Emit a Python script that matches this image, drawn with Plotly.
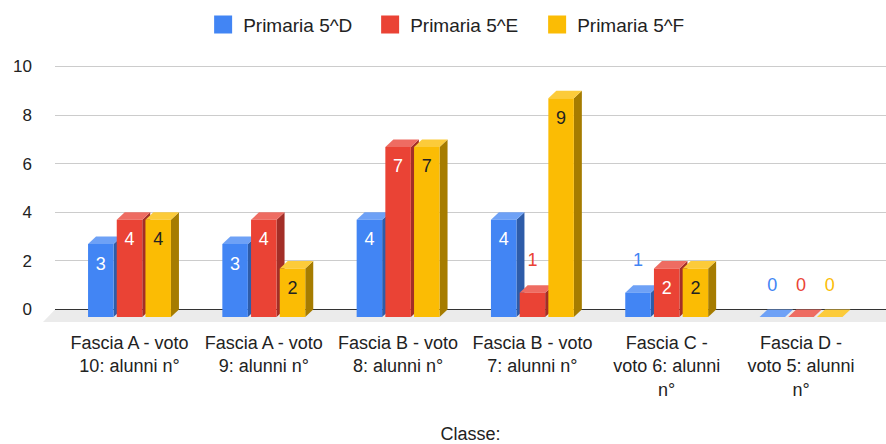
import plotly.graph_objects as go

# ---- data -------------------------------------------------------------
categories = [
    "Fascia A - voto<br>10: alunni n°",
    "Fascia A - voto<br>9: alunni n°",
    "Fascia B - voto<br>8: alunni n°",
    "Fascia B - voto<br>7: alunni n°",
    "Fascia C -<br>voto 6: alunni<br>n°",
    "Fascia D -<br>voto 5: alunni<br>n°",
]
series_names = ["Primaria 5^D", "Primaria 5^E", "Primaria 5^F"]
primaria_5d = [3, 3, 4, 4, 1, 0]
primaria_5e = [4, 4, 7, 1, 2, 0]
primaria_5f = [4, 2, 7, 9, 2, 0]
y_ticks = [0, 2, 4, 6, 8, 10]
axis_title = "Classe:"

series_values = [primaria_5d, primaria_5e, primaria_5f]

# ---- styling ----------------------------------------------------------
front_colors = ["#4285F4", "#EA4335", "#FBBC04"]
top_colors = ["#6EA1F6", "#EE6C62", "#FCCB3A"]
side_colors = ["#2E5CA8", "#A32E27", "#A67C00"]
inside_text_colors = ["white", "white", "#222222"]
FONT = "Liberation Sans, Arial, sans-serif"

# ---- page / plot geometry (pixels) ------------------------------------
W, H = 886, 444
PLOT_L, PLOT_R = 55, 886
PLOT_T, PLOT_B = 50, 330
X_FIRST = 129.5      # pixel centre of the first category
X_STEP = 134.3       # pixels per category
Y_ZERO = 309.5       # pixel row of value 0
Y_UNIT = 24.3        # pixels per value unit

BAR_W = 25.5         # front face width
BAR_STRIDE = 28.7    # distance between bars inside a group
DEPTH_X = 8.0        # 3D depth offset
DEPTH_Y = 7.5

x_range = [(PLOT_L - X_FIRST) / X_STEP, (PLOT_R - X_FIRST) / X_STEP]
y_range = [-(PLOT_B - Y_ZERO) / Y_UNIT, (Y_ZERO - PLOT_T) / Y_UNIT]


def px_x(p):
    return p / X_STEP


def px_y(p):
    return p / Y_UNIT


bw = px_x(BAR_W)
dx = px_x(DEPTH_X)
dy = px_y(DEPTH_Y)

fig = go.Figure()
shapes = []


# floor plane under the columns
def paper_x(p):
    return (p - PLOT_L) / (PLOT_R - PLOT_L)


def paper_y(p):
    return (PLOT_B - p) / (PLOT_B - PLOT_T)


floor_front = Y_ZERO + 12.5
shapes.append(dict(
    type="path", xref="paper", yref="paper", layer="below",
    path=(f"M{paper_x(PLOT_L)},{paper_y(Y_ZERO)} L{paper_x(PLOT_R + 20)},{paper_y(Y_ZERO)} "
          f"L{paper_x(PLOT_R + 8)},{paper_y(floor_front)} L{paper_x(PLOT_L - 12)},{paper_y(floor_front)} Z"),
    fillcolor="#EBEBEB", line=dict(width=0),
))

label_x, label_y, label_text, label_color = [], [], [], []

for k, (name, vals) in enumerate(zip(series_names, series_values)):
    offset = px_x((k - 1) * BAR_STRIDE - BAR_W / 2)
    xs = list(range(len(categories)))
    # front faces
    fig.add_trace(go.Bar(
        x=xs, y=vals, base=[-dy] * len(vals), offset=offset, width=bw,
        name=name, marker=dict(color=front_colors[k], line=dict(width=0)),
        hoverinfo="skip", showlegend=False,
    ))
    # legend swatch for the series
    fig.add_trace(go.Scatter(
        x=[None], y=[None], mode="markers", name=name,
        marker=dict(symbol="square", size=16, color=front_colors[k],
                    line=dict(width=2, color=front_colors[k])),
        hoverinfo="skip",
    ))
    for i, v in enumerate(vals):
        left = i + offset
        right = left + bw
        # side face
        shapes.append(dict(
            type="path", xref="x", yref="y", layer="between",
            path=f"M{right},{v - dy} L{right + dx},{v} L{right + dx},0 L{right},{-dy} Z",
            fillcolor=side_colors[k], line=dict(width=0),
        ))
        # top face
        shapes.append(dict(
            type="path", xref="x", yref="y", layer="between",
            path=f"M{left},{v - dy} L{left + dx},{v} L{right + dx},{v} L{right},{v - dy} Z",
            fillcolor=top_colors[k], line=dict(width=0),
        ))
        # value label
        cx = left + bw / 2
        if v * Y_UNIT >= 40:
            label_y.append(v - dy - px_y(21))
            label_color.append(inside_text_colors[k])
        else:
            label_y.append(v - dy + px_y(31))
            label_color.append(front_colors[k])
        label_x.append(cx)
        label_text.append(str(v))

fig.add_trace(go.Scatter(
    x=label_x, y=label_y, text=label_text, mode="text",
    textfont=dict(family=FONT, size=18, color=label_color),
    showlegend=False, hoverinfo="skip",
))

fig.update_layout(
    width=W, height=H,
    margin=dict(l=PLOT_L, r=W - PLOT_R, t=PLOT_T, b=H - PLOT_B),
    paper_bgcolor="white", plot_bgcolor="rgba(0,0,0,0)",
    font=dict(family=FONT, size=18, color="#222222"),
    barmode="overlay",
    shapes=shapes,
    showlegend=True,
    legend=dict(
        orientation="h", xref="container", yref="container",
        x=0.512, xanchor="center", y=0.987, yanchor="top",
        font=dict(size=19, color="#222222"),
        entrywidth=122, entrywidthmode="pixels",
        itemsizing="trace",
    ),
    xaxis=dict(
        range=x_range, tickmode="array", tickvals=list(range(len(categories))),
        ticktext=categories, showgrid=False, zeroline=False, showline=False,
        ticks="", tickfont=dict(size=18, color="#222222"),
        title=dict(text=axis_title, standoff=31, font=dict(size=18, color="#222222")),
    ),
    yaxis=dict(
        range=y_range, tickmode="array", tickvals=y_ticks,
        showgrid=True, gridcolor="#CCCCCC", gridwidth=1,
        zeroline=True, zerolinecolor="#333333", zerolinewidth=1,
        showline=False, ticks="", ticklabelstandoff=22,
        tickfont=dict(size=17, color="#222222"),
    ),
)

fig.write_html("out.html")
